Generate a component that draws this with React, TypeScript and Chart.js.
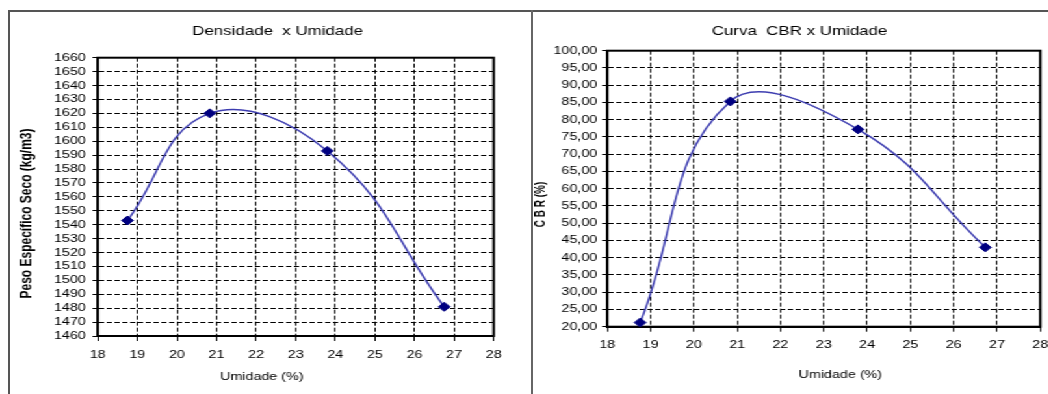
import React, { useEffect, useRef } from "react";
import { Chart, registerables } from "chart.js";

Chart.register(...registerables);

// ---------- data ----------
const umidadeDens = [18.75, 20.83, 23.8, 26.75];
const densidade = [1543, 1620, 1593, 1481];

const umidadeCbr = [18.76, 20.84, 23.79, 26.73];
const cbr = [21.2, 85.3, 77.2, 43.0];

const xTicks = [18, 19, 20, 21, 22, 23, 24, 25, 26, 27, 28];
const densTicks = [
  1460, 1470, 1480, 1490, 1500, 1510, 1520, 1530, 1540, 1550, 1560,
  1570, 1580, 1590, 1600, 1610, 1620, 1630, 1640, 1650, 1660,
];
const cbrTicks = [20, 25, 30, 35, 40, 45, 50, 55, 60, 65, 70, 75, 80, 85, 90, 95, 100];

const densTitle = "Densidade  x Umidade";
const cbrTitle = "Curva  CBR x Umidade";
const xTitle = "Umidade (%)";
const densYTitle = "Peso Específico Seco (kg/m3)";
const cbrYTitle = "C B R (%)";

// ---------- style ----------
const S = 1.3; // horizontal stretch of the original picture
const FONT = "'Liberation Sans', Arial, sans-serif";

const plotFrame = {
  id: "plotFrame",
  beforeDatasetsDraw(chart: any) {
    const { ctx, chartArea } = chart;
    ctx.save();
    ctx.setLineDash([]);
    ctx.strokeStyle = "#000";
    ctx.lineWidth = 2;
    ctx.strokeRect(chartArea.left, chartArea.top, chartArea.right - chartArea.left, chartArea.bottom - chartArea.top);
    ctx.restore();
  },
};

// axis titles placed where the original picture has them
const axisTitles = {
  id: "axisTitles",
  afterDraw(chart: any, _args: any, opts: any) {
    const ctx = chart.ctx;
    for (const it of opts.items || []) {
      ctx.save();
      ctx.translate(it.x, it.y);
      if (it.rotate) ctx.rotate(-Math.PI / 2);
      ctx.font = it.font;
      ctx.fillStyle = "#000";
      ctx.textAlign = "center";
      ctx.textBaseline = "middle";
      ctx.fillText(it.text, 0, 0);
      ctx.restore();
    }
  },
};

type Opts = {
  title: string;
  xs: number[];
  ys: number[];
  yTicks: number[];
  yFmt: (v: number) => string;
  yWidth: number;
  rightWidth: number;
  xHeight: number;
  titlePad: { top: number; bottom: number };
  xTickPad: number;
  yTickPad: number;
  titles: any[];
};

function makeChart(canvas: HTMLCanvasElement, o: Opts) {
  return new Chart(canvas, {
    type: "scatter",
    data: {
      datasets: [
        {
          data: o.xs.map((x, i) => ({ x, y: o.ys[i] })),
          showLine: true,
          borderColor: "#3d3db0",
          borderWidth: 1.5,
          tension: 0.42,
          pointStyle: "rectRot",
          pointRadius: 4.5,
          pointBackgroundColor: "#000080",
          pointBorderColor: "#000080",
          pointBorderWidth: 1,
        } as any,
      ],
    },
    options: {
      responsive: false,
      animation: false,
      devicePixelRatio: 1,
      layout: { padding: 0 },
      plugins: {
        legend: { display: false },
        tooltip: { enabled: false },
        title: {
          display: true,
          text: o.title,
          color: "#000",
          font: { family: FONT, size: 13, weight: "normal" },
          padding: o.titlePad,
        },
        axisTitles: { items: o.titles },
      },
      scales: {
        x: {
          type: "linear",
          min: xTicks[0],
          max: xTicks[xTicks.length - 1],
          afterBuildTicks: (s: any) => {
            s.ticks = xTicks.map((v) => ({ value: v }));
          },
          afterFit: (s: any) => {
            s.height = o.xHeight;
          },
          ticks: {
            autoSkip: false,
            maxRotation: 0,
            color: "#000",
            padding: o.xTickPad,
            font: { family: FONT, size: 11 },
            callback: (v: any) => String(v),
          },
          grid: {
            color: "#000",
            lineWidth: 1,
            tickLength: 5,
            tickColor: "#000",
            tickWidth: 1,
            tickBorderDash: [],
          },
          border: { display: true, color: "#000", width: 2, dash: [4, 2] },
        },
        y: {
          type: "linear",
          position: "left",
          min: o.yTicks[0],
          max: o.yTicks[o.yTicks.length - 1],
          afterBuildTicks: (s: any) => {
            s.ticks = o.yTicks.map((v) => ({ value: v }));
          },
          afterFit: (s: any) => {
            s.width = o.yWidth;
          },
          ticks: {
            autoSkip: false,
            color: "#000",
            padding: o.yTickPad,
            font: { family: FONT, size: 11 },
            callback: (v: any) => o.yFmt(Number(v)),
          },
          grid: {
            color: "#000",
            lineWidth: 1,
            tickLength: 4,
            tickColor: "#000",
            tickWidth: 1,
            tickBorderDash: [],
          },
          border: { display: true, color: "#000", width: 2, dash: [4, 2] },
        },
        yR: {
          type: "linear",
          position: "right",
          display: true,
          afterFit: (s: any) => {
            s.width = o.rightWidth;
          },
          ticks: { display: false },
          grid: { display: false, drawTicks: false },
          border: { display: false },
        },
      },
    } as any,
    plugins: [plotFrame, axisTitles],
  });
}

export default function App() {
  const leftRef = useRef<HTMLCanvasElement>(null);
  const rightRef = useRef<HTMLCanvasElement>(null);

  useEffect(() => {
    const c1 = makeChart(leftRef.current!, {
      title: densTitle,
      xs: umidadeDens,
      ys: densidade,
      yTicks: densTicks,
      yFmt: (v) => String(v),
      yWidth: 66.1,
      rightWidth: 38.3,
      xHeight: 58,
      titlePad: { top: 11.2, bottom: 18.9 },
      xTickPad: 7.4,
      yTickPad: 5.2,
      titles: [
        { text: xTitle, x: 192.3, y: 365.3, rotate: false, font: `normal 11px ${FONT}` },
        { text: densYTitle, x: 11.8, y: 201.5, rotate: true, font: `bold 12px ${FONT}` },
      ],
    });
    const c2 = makeChart(rightRef.current!, {
      title: cbrTitle,
      xs: umidadeCbr,
      ys: cbr,
      yTicks: cbrTicks,
      yFmt: (v) => v.toFixed(2).replace(".", ","),
      yWidth: 56.1,
      rightWidth: 18.8,
      xHeight: 67.3,
      titlePad: { top: 11.2, bottom: 11.9 },
      xTickPad: 6.7,
      yTickPad: 3.7,
      titles: [
        { text: xTitle, x: 235.4, y: 363, rotate: false, font: `normal 11px ${FONT}` },
        { text: cbrYTitle, x: 5.6, y: 192.5, rotate: true, font: `bold 10px ${FONT}` },
      ],
    });
    return () => {
      c1.destroy();
      c2.destroy();
    };
  }, []);

  return (
    <div
      style={{
        position: "fixed",
        left: 0,
        top: 0,
        width: 1048,
        height: 394,
        background: "#fff",
        overflow: "hidden",
      }}
    >
      <div
        style={{
          position: "absolute",
          left: 0,
          top: 0,
          width: 1048 / S,
          height: 394,
          transform: `scaleX(${S})`,
          transformOrigin: "0 0",
        }}
      >
        <canvas
          ref={leftRef}
          width={409}
          height={382}
          style={{ position: "absolute", left: 8.5, top: 12, width: 409, height: 382 }}
        />
        <canvas
          ref={rightRef}
          width={408}
          height={382}
          style={{ position: "absolute", left: 410.8, top: 12, width: 408, height: 382 }}
        />
      </div>
      <div style={{ position: "absolute", left: 8, top: 10, width: 1040, height: 2, background: "#555" }} />
      <div style={{ position: "absolute", left: 8, top: 10, width: 2, height: 384, background: "#555" }} />
      <div style={{ position: "absolute", left: 531, top: 10, width: 2, height: 384, background: "#666" }} />
    </div>
  );
}
